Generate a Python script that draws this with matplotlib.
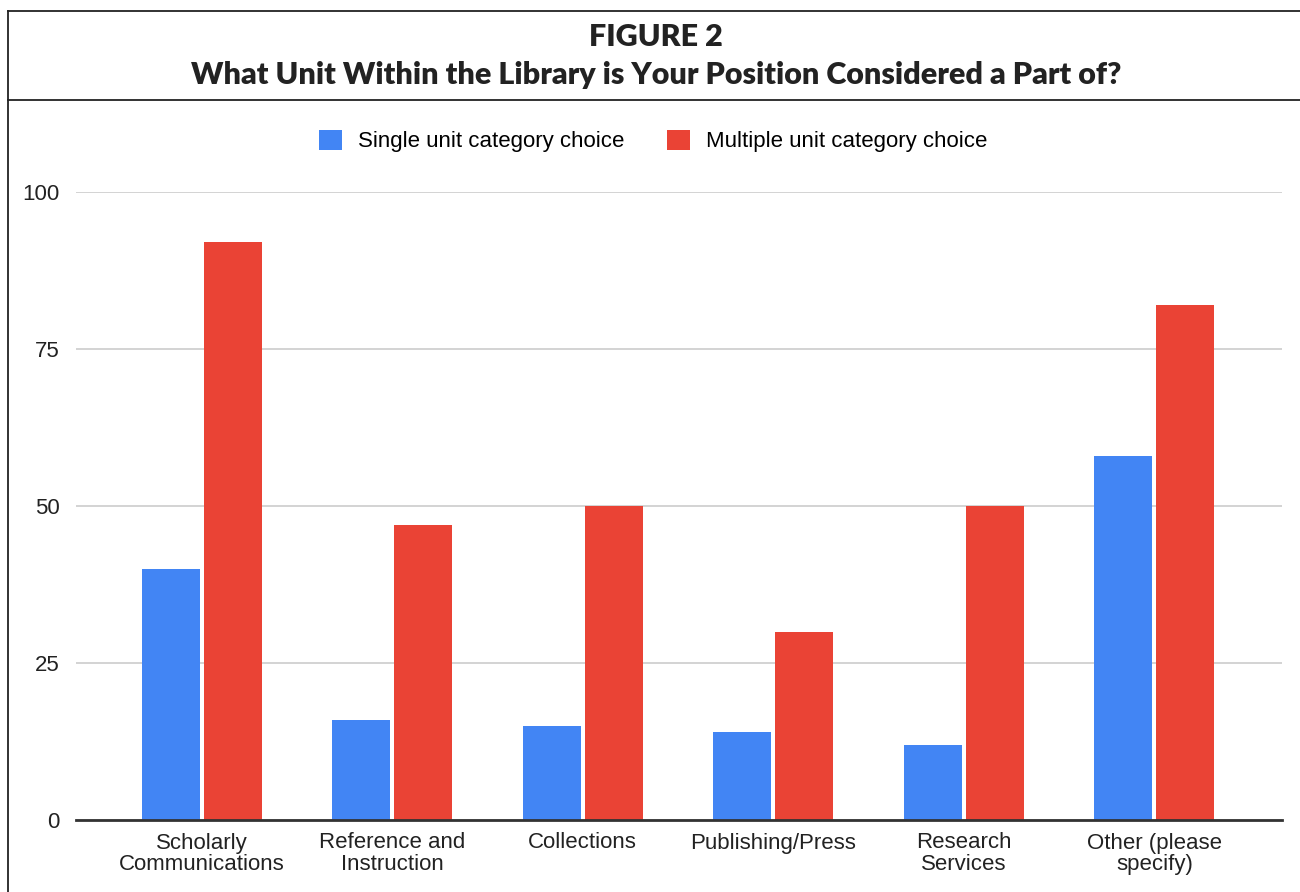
import matplotlib.pyplot as plt
import numpy as np
from matplotlib.lines import Line2D
from matplotlib.patches import Patch

categories = ["Scholarly\nCommunications", "Reference and\nInstruction", "Collections",
              "Publishing/Press", "Research\nServices", "Other (please\nspecify)"]
single_unit = [40, 16, 15, 14, 12, 58]
multiple_unit = [92, 47, 50, 30, 50, 82]
series_names = ["Single unit category choice", "Multiple unit category choice"]
yticks = [0, 25, 50, 75, 100]

blue = "#4285F4"
red = "#EA4335"

fig = plt.figure(figsize=(13, 8.92), dpi=100)
W, H = 1300, 892

# plot area in pixel terms
left, right, bottom, top = 76, 1282, 820, 192
ax = fig.add_axes([left / W, 1 - bottom / H, (right - left) / W, (bottom - top) / H])

x = np.arange(len(categories))
w = 0.305
off = 0.163
ax.bar(x - off, single_unit, w, color=blue, zorder=3)
ax.bar(x + off, multiple_unit, w, color=red, zorder=3)

ax.set_xlim(-0.66, 5.67)
ax.set_ylim(0, 100)
ax.set_yticks(yticks)
ax.set_yticklabels([str(t) for t in yticks], fontsize=16, family="Liberation Sans", color="#222222")
ax.set_xticks(x)
ax.set_xticklabels(categories, fontsize=16, family="Liberation Sans", color="#222222",
                   linespacing=1.05)
ax.tick_params(axis="both", length=0)
ax.tick_params(axis="y", pad=12)
ax.tick_params(axis="x", pad=9)
for s in ax.spines.values():
    s.set_visible(False)
ax.grid(axis="y", color="#cccccc", linewidth=1.2, zorder=0)
ax.axhline(0, color="#333333", linewidth=2, zorder=4, clip_on=False)

# legend above the plot
handles = [Patch(facecolor=blue), Patch(facecolor=red)]
fig.legend(handles, series_names, loc="center", bbox_to_anchor=(653 / W, 1 - 141 / H),
           ncol=2, frameon=False, prop={"family": "Liberation Sans", "size": 16},
           handlelength=1.05, handleheight=1.05, handletextpad=0.7, columnspacing=1.9)

# title block and frame
fig.text(656 / W, 1 - 37 / H, "FIGURE 2", ha="center", va="center",
         fontsize=22, fontweight="heavy", family="Lato", color="#222222")
fig.text(656 / W, 1 - 75 / H, "What Unit Within the Library is Your Position Considered a Part of?",
         ha="center", va="center", fontsize=22, fontweight="heavy", family="Lato", color="#222222")

frame = dict(color="#222222", linewidth=1.3, transform=fig.transFigure)
fig.add_artist(Line2D([8 / W, 1], [1 - 11 / H, 1 - 11 / H], **frame))
fig.add_artist(Line2D([8 / W, 1], [1 - 100 / H, 1 - 100 / H], **frame))
fig.add_artist(Line2D([8 / W, 8 / W], [1 - 11 / H, 0], **frame))

fig.savefig("out.png", dpi=100)
